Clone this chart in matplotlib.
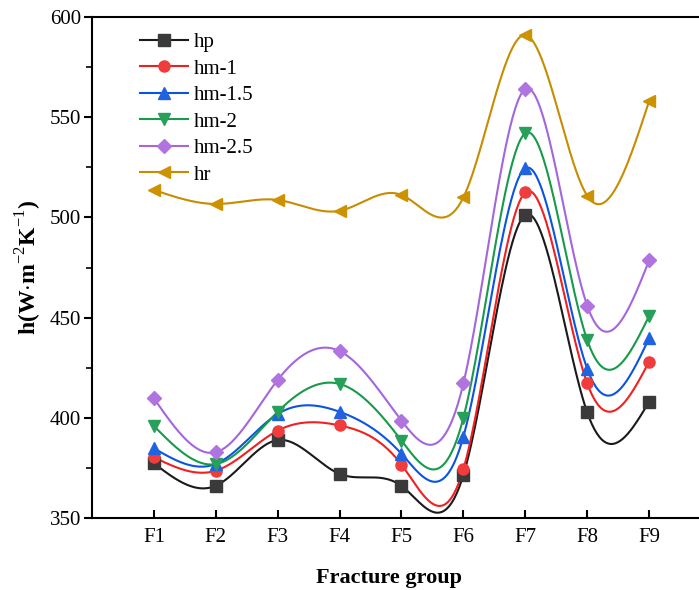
import numpy as np
import matplotlib.pyplot as plt

# heat transfer coefficient per fracture group
groups = ["F1", "F2", "F3", "F4", "F5", "F6", "F7", "F8", "F9"]
hp = [377.3, 366.1, 388.9, 372.0, 366.0, 371.5, 501.2, 402.7, 408.0]
hm_1 = [380.3, 373.6, 393.6, 396.2, 376.6, 374.4, 512.5, 417.2, 428.0]
hm_1_5 = [384.8, 377.0, 401.9, 403.0, 382.0, 390.6, 524.5, 424.5, 439.7]
hm_2 = [395.9, 376.9, 403.0, 416.9, 388.6, 400.0, 542.0, 438.8, 450.8]
hm_2_5 = [409.7, 382.8, 418.9, 433.3, 398.6, 417.2, 564.0, 456.0, 478.5]
hr = [513.7, 506.7, 508.7, 503.3, 511.2, 510.0, 591.0, 510.8, 558.0]

series = [
    ("hp", hp, "#3a3a3a", "#1a1a1a", "s"),
    ("hm-1", hm_1, "#f03c3c", "#f02020", "o"),
    ("hm-1.5", hm_1_5, "#1f63e0", "#0a55e0", "^"),
    ("hm-2", hm_2, "#27a05a", "#179a4a", "v"),
    ("hm-2.5", hm_2_5, "#b073e0", "#a466dc", "D"),
    ("hr", hr, "#cc9200", "#c88c00", "<"),
]


def natural_spline(x, y, n=400):
    # plain natural cubic spline, solved as a tridiagonal system
    x = np.asarray(x, float)
    y = np.asarray(y, float)
    k = len(x)
    h = np.diff(x)
    A = np.zeros((k, k))
    b = np.zeros(k)
    A[0, 0] = A[-1, -1] = 1.0
    for i in range(1, k - 1):
        A[i, i - 1] = h[i - 1]
        A[i, i] = 2 * (h[i - 1] + h[i])
        A[i, i + 1] = h[i]
        b[i] = 6 * ((y[i + 1] - y[i]) / h[i] - (y[i] - y[i - 1]) / h[i - 1])
    M = np.linalg.solve(A, b)
    xs = np.linspace(x[0], x[-1], n)
    idx = np.clip(np.searchsorted(x, xs) - 1, 0, k - 2)
    x0, x1 = x[idx], x[idx + 1]
    hh = x1 - x0
    ys = (M[idx] * (x1 - xs) ** 3 / (6 * hh) + M[idx + 1] * (xs - x0) ** 3 / (6 * hh)
          + (y[idx] / hh - M[idx] * hh / 6) * (x1 - xs)
          + (y[idx + 1] / hh - M[idx + 1] * hh / 6) * (xs - x0))
    return xs, ys


plt.rcParams["font.family"] = ["Liberation Serif", "DejaVu Serif"]
plt.rcParams["mathtext.fontset"] = "custom"
plt.rcParams["mathtext.rm"] = "Liberation Serif"
plt.rcParams["mathtext.bf"] = "Liberation Serif:bold"

fig = plt.figure(figsize=(6.99, 5.90), dpi=100)
ax = fig.add_axes([92 / 699, 72 / 590, 619 / 699, 501 / 590])

xpos = np.arange(1, len(groups) + 1)
for name, vals, mcol, lcol, mk in series:
    ms = 7 if mk == "D" else 8
    xs, ys = natural_spline(xpos, vals)
    ax.plot(xs, ys, color=lcol, lw=1.5, zorder=2)
    ax.plot(xpos, vals, ls="none", marker=mk, ms=ms, color=mcol, zorder=3)
    # legend proxy: line with marker
    ax.plot([], [], color=lcol, lw=1.5, marker=mk, ms=ms,
            mfc=mcol, mec=mcol, label=name)

ax.set_xlim(0, 10)
ax.set_ylim(350, 600)
ax.set_xticks(xpos)
ax.set_xticklabels(groups)
ax.set_yticks(np.arange(350, 601, 50))
ax.set_yticks(np.arange(375, 600, 50), minor=True)

for sp in ax.spines.values():
    sp.set_linewidth(1.5)
ax.tick_params(axis="x", direction="in", length=6, width=1.5, labelsize=15, pad=7)
ax.tick_params(axis="y", direction="out", length=6, width=1.5, labelsize=15, pad=2)
ax.tick_params(axis="y", which="minor", direction="out", length=4, width=1.2)

ax.set_xlabel("Fracture group", fontsize=16, fontweight="bold", labelpad=15, x=0.48)
ax.set_ylabel(r"h(W$\cdot$m$^{-2}$K$^{-1}$)", fontsize=17, fontweight="bold", labelpad=4)

ax.legend(loc="upper left", bbox_to_anchor=(0.047, 1.006), frameon=False, fontsize=15,
          handlelength=2.3, handletextpad=0.3, labelspacing=0.33)

fig.savefig("out.png", dpi=100)
